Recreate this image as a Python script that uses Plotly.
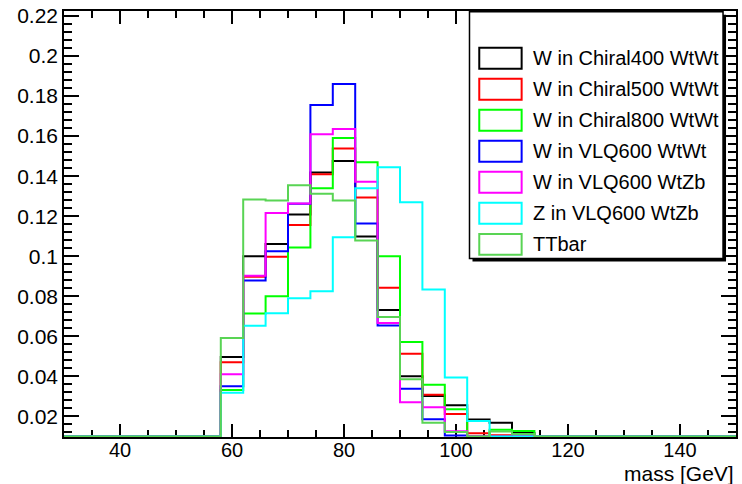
import numpy as np
import plotly.graph_objects as go

# ---- data ----
bin_edges = [58, 62, 66, 70, 74, 78, 82, 86, 90, 94, 98, 102, 106, 110, 114]
x_range = [30, 150]

series_names = ["W in Chiral400 WtWt", "W in Chiral500 WtWt", "W in Chiral800 WtWt",
                "W in VLQ600 WtWt", "W in VLQ600 WtZb", "Z in VLQ600 WtZb", "TTbar"]
series_colors = ["#000000", "#ff0000", "#00ff00", "#0000ff", "#ff00ff", "#00ffff", "#59d454"]

chiral400 = [0.0497, 0.1000, 0.1061, 0.1208, 0.1418, 0.1476, 0.1098, 0.0732, 0.0400, 0.0302, 0.0255, 0.0185, 0.0168, 0.0117]
chiral500 = [0.0470, 0.0897, 0.0998, 0.1156, 0.1410, 0.1538, 0.1294, 0.0842, 0.0513, 0.0308, 0.0212, 0.0116, 0.0106, 0.0085]
chiral800 = [0.0332, 0.0714, 0.0800, 0.1044, 0.1339, 0.1590, 0.1469, 0.1000, 0.0572, 0.0358, 0.0236, 0.0080, 0.0133, 0.0127]
vlq600_wtwt_w = [0.0350, 0.0879, 0.1025, 0.1262, 0.1755, 0.1860, 0.1164, 0.0654, 0.0338, 0.0186, 0.0105, 0.0060, 0.0040, 0.0020]
vlq600_wtzb_w = [0.0410, 0.0902, 0.1216, 0.1263, 0.1609, 0.1635, 0.1372, 0.0666, 0.0271, 0.0245, 0.0126, 0.0060, 0.0040, 0.0020]
vlq600_wtzb_z = [0.0318, 0.0653, 0.0715, 0.0790, 0.0825, 0.1095, 0.1340, 0.1444, 0.1270, 0.0834, 0.0394, 0.0177, 0.0060, 0.0030]
ttbar = [0.0592, 0.1283, 0.1278, 0.1355, 0.1312, 0.1278, 0.1079, 0.0697, 0.0385, 0.0168, 0.0122, 0.0080, 0.0125, 0.0112]

series_values = [chiral400, chiral500, chiral800, vlq600_wtwt_w, vlq600_wtzb_w, vlq600_wtzb_z, ttbar]

y_range = [0.0097, 0.2225]
y_tickvals = [0.02, 0.04, 0.06, 0.08, 0.10, 0.12, 0.14, 0.16, 0.18, 0.20, 0.22]
y_ticktext = ["0.02", "0.04", "0.06", "0.08", "0.1", "0.12", "0.14", "0.16", "0.18", "0.2", "0.22"]
x_title = "mass [GeV]"

# ---- layout geometry (pixels) ----
W, H = 742, 484
L, R, T, B = 64, 738, 10, 437

def px_x(x):
    return (x - L) / (R - L)

def px_y(y):
    return (B - y) / (B - T)

FONT = "Liberation Sans, Arial, Helvetica, sans-serif"

fig = go.Figure()

floor = y_range[0] + 0.0003
for name, color, vals in zip(series_names, series_colors, series_values):
    xs = [x_range[0]] + list(bin_edges) + [x_range[1]]
    ys = [0.0] + list(vals) + [0.0, 0.0]
    ys = np.maximum(np.array(ys), floor)
    fig.add_trace(go.Scatter(x=xs, y=ys, mode="lines", line_shape="hv",
                             line=dict(color=color, width=2), name=name,
                             showlegend=False, hoverinfo="skip"))

# ---- custom ROOT-style legend ----
shapes = []
annotations = []
lx0, lx1, ly0, ly1 = 470.7, 725, 10.7, 258
shapes.append(dict(type="rect", xref="paper", yref="paper",
                   x0=px_x(lx0 + 3), x1=px_x(lx1 + 3), y0=px_y(ly1 + 3), y1=px_y(ly0 + 3),
                   fillcolor="black", line=dict(width=0), layer="above"))
shapes.append(dict(type="rect", xref="paper", yref="paper",
                   x0=px_x(lx0), x1=px_x(lx1), y0=px_y(ly1), y1=px_y(ly0),
                   fillcolor="white", line=dict(color="black", width=1.5), layer="above"))
row0, drow = 57.3, 31.1
for i, (name, color) in enumerate(zip(series_names, series_colors)):
    cy = row0 + i * drow
    shapes.append(dict(type="rect", xref="paper", yref="paper",
                       x0=px_x(480.5), x1=px_x(523), y0=px_y(cy + 10.5), y1=px_y(cy - 10.5),
                       fillcolor="rgba(0,0,0,0)", line=dict(color=color, width=2), layer="above"))
    annotations.append(dict(xref="paper", yref="paper", x=px_x(532), y=px_y(cy),
                            xanchor="left", yanchor="middle", text=name, showarrow=False,
                            font=dict(family=FONT, size=20, color="black")))

annotations.append(dict(xref="paper", yref="paper", x=1.0, y=px_y(474),
                        xanchor="right", yanchor="middle", text=x_title, showarrow=False,
                        font=dict(family=FONT, size=21, color="black")))

fig.update_layout(
    width=W, height=H,
    margin=dict(l=L, r=W - R, t=T, b=H - B, pad=0),
    paper_bgcolor="white", plot_bgcolor="white",
    shapes=shapes, annotations=annotations,
    font=dict(family=FONT, color="black"),
    xaxis=dict(range=x_range, tick0=0, dtick=20, ticks="inside", ticklen=13,
               tickwidth=1.5, tickcolor="black", showline=True, linecolor="black",
               linewidth=1.5, mirror="allticks", showgrid=False, zeroline=False,
               ticklabelstandoff=-6,
               tickfont=dict(family=FONT, size=20, color="black"), layer="below traces",
               minor=dict(dtick=5, ticks="inside", ticklen=7, tickcolor="black", tickwidth=1.5,
                          showgrid=False)),
    yaxis=dict(range=y_range, tickvals=y_tickvals, ticktext=y_ticktext, ticks="inside",
               ticklen=15, tickwidth=1.5, tickcolor="black", showline=True, linecolor="black",
               linewidth=1.5, mirror="allticks", showgrid=False, zeroline=False,
               tickfont=dict(family=FONT, size=21, color="black"), layer="below traces",
               minor=dict(tick0=0, dtick=0.004, ticks="inside", ticklen=8, tickcolor="black",
                          tickwidth=1.5, showgrid=False)),
)

fig.write_html("out.html")
